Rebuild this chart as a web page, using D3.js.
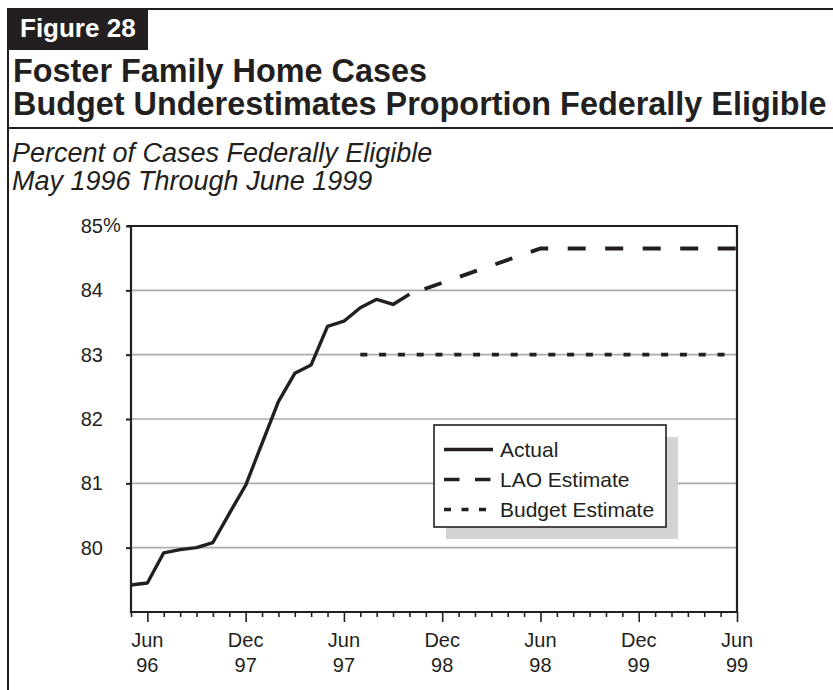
<!DOCTYPE html>
<html>
<head>
<meta charset="utf-8">
<script src="https://cdn.jsdelivr.net/npm/d3@7"></script>
<style>
  html, body { margin: 0; padding: 0; background: #fff; }
  svg { display: block; font-family: "Liberation Sans", Arial, Helvetica, sans-serif; }
</style>
</head>
<body>
<svg id="chart" width="833" height="690"></svg>
<script>
// ---- data -------------------------------------------------------------
// Month index 0 = May 1996, index 37 = June 1999
const monthCount = 38;
const actualPercent = [79.42, 79.45, 79.92, 79.97, 80.00, 80.08, 80.53, 80.97, 81.62,
                       82.27, 82.71, 82.84, 83.44, 83.52, 83.73, 83.86, 83.78, 83.94];
const laoMonthIndex = [17, 25, 37];
const laoPercent = [83.94, 84.65, 84.65];
const budgetMonthIndex = [14, 37];
const budgetPercent = [83.0, 83.0];
const yTicks = [80, 81, 82, 83, 84, 85];
const xTickLabels = [["Jun", "96"], ["Dec", "97"], ["Jun", "97"], ["Dec", "98"],
                     ["Jun", "98"], ["Dec", "99"], ["Jun", "99"]];
const legendLabels = ["Actual", "LAO Estimate", "Budget Estimate"];

// ---- setup ------------------------------------------------------------
const ink = "#231f20";
const svg = d3.select("#chart");

const x = d3.scaleLinear().domain([0, monthCount - 1]).range([131, 737]);
const y = d3.scaleLinear().domain([79, 85]).range([612, 226]);

// ---- page frame and headings -------------------------------------------
svg.append("line").attr("x1", 8).attr("x2", 833).attr("y1", 9).attr("y2", 9)
  .attr("stroke", ink).attr("stroke-width", 2);
svg.append("line").attr("x1", 8).attr("x2", 8).attr("y1", 8).attr("y2", 690)
  .attr("stroke", ink).attr("stroke-width", 2);
svg.append("line").attr("x1", 8).attr("x2", 833).attr("y1", 128).attr("y2", 128)
  .attr("stroke", ink).attr("stroke-width", 2);

svg.append("rect").attr("x", 8).attr("y", 8).attr("width", 140).attr("height", 42)
  .attr("fill", ink);
svg.append("text").attr("x", 20).attr("y", 37)
  .attr("fill", "#fff").attr("font-size", 26).attr("font-weight", "bold")
  .text("Figure 28");

const title = svg.append("text").attr("fill", ink).attr("font-size", 32.4).attr("font-weight", "bold");
title.append("tspan").attr("x", 13).attr("y", 82).text("Foster Family Home Cases");
title.append("tspan").attr("x", 13).attr("y", 115).text("Budget Underestimates Proportion Federally Eligible");

const sub = svg.append("text").attr("fill", ink).attr("font-size", 27).attr("font-style", "italic");
sub.append("tspan").attr("x", 12).attr("y", 162).text("Percent of Cases Federally Eligible");
sub.append("tspan").attr("x", 12).attr("y", 190).text("May 1996 Through June 1999");

// ---- grid -------------------------------------------------------------
svg.append("g").selectAll("line")
  .data(yTicks.filter(d => d < 85))
  .join("line")
  .attr("x1", x(0)).attr("x2", x(monthCount - 1))
  .attr("y1", d => y(d)).attr("y2", d => y(d))
  .attr("stroke", "#ababab").attr("stroke-width", 1.6);

// ---- axes -------------------------------------------------------------
const yAxis = svg.append("g")
  .attr("transform", `translate(${x(0)},0)`)
  .call(d3.axisLeft(y).tickValues(yTicks).tickSize(5).tickPadding(23).tickFormat(d => d));
yAxis.select(".domain").remove();
yAxis.selectAll(".tick line").attr("stroke", ink).attr("stroke-width", 2);
yAxis.selectAll(".tick text").attr("fill", ink).attr("font-size", 20)
  .attr("font-family", "Liberation Sans, Arial, Helvetica, sans-serif");
// percent sign trails the top label
svg.append("text").attr("x", x(0) - 28).attr("y", y(85)).attr("dy", "0.32em")
  .attr("fill", ink).attr("font-size", 20).text("%");

const xAxis = svg.append("g")
  .attr("transform", `translate(0,${y(79)})`)
  .call(d3.axisBottom(x).tickValues(d3.range(monthCount)).tickSize(5).tickFormat(""));
xAxis.select(".domain").remove();
xAxis.selectAll(".tick line")
  .attr("stroke", ink).attr("stroke-width", 1.6)
  .attr("y2", d => ((d - 1) % 6 === 0 ? 10 : 5));

// two-line month / year labels on every sixth month starting June 1996
const xLab = svg.append("g").attr("fill", ink).attr("font-size", 20).attr("text-anchor", "middle");
xTickLabels.forEach((lab, k) => {
  const t = xLab.append("text");
  t.append("tspan").attr("x", x(1 + 6 * k)).attr("y", 647).text(lab[0]);
  t.append("tspan").attr("x", x(1 + 6 * k)).attr("y", 672).text(lab[1]);
});

// plot box
svg.append("path")
  .attr("d", `M${x(0) - 4},${y(85)} H${x(monthCount - 1)} V${y(79)} H${x(0)} V${y(85)}`)
  .attr("fill", "none").attr("stroke", ink).attr("stroke-width", 2.2);

// ---- series -----------------------------------------------------------
const line = d3.line().x(d => x(d[0])).y(d => y(d[1]));

svg.append("path")
  .datum(budgetMonthIndex.map((m, i) => [m, budgetPercent[i]]))
  .attr("d", line).attr("fill", "none").attr("stroke", ink)
  .attr("stroke-width", 3.6).attr("stroke-dasharray", "7,11.8");

svg.append("path")
  .datum(laoMonthIndex.map((m, i) => [m, laoPercent[i]]))
  .attr("d", line).attr("fill", "none").attr("stroke", ink)
  .attr("stroke-width", 3.8).attr("stroke-dasharray", "18,19.5").attr("stroke-dashoffset", 21.5);

svg.append("path")
  .datum(actualPercent.map((v, i) => [i, v]))
  .attr("d", line).attr("fill", "none").attr("stroke", ink)
  .attr("stroke-width", 3.4).attr("stroke-linejoin", "round");

// ---- legend -----------------------------------------------------------
const lg = svg.append("g");
lg.append("rect").attr("x", 446).attr("y", 437).attr("width", 232).attr("height", 102)
  .attr("fill", "#d3d3d3");
lg.append("rect").attr("x", 434).attr("y", 425).attr("width", 232).attr("height", 102)
  .attr("fill", "#fff").attr("stroke", ink).attr("stroke-width", 1.6);

const legendDash = [null, "15.5,15.5", "7,10.5"];
legendLabels.forEach((lab, i) => {
  const ry = 449.5 + i * 30;
  lg.append("line").attr("x1", 444).attr("x2", 493).attr("y1", ry).attr("y2", ry)
    .attr("stroke", ink).attr("stroke-width", 3.4)
    .attr("stroke-dasharray", legendDash[i]);
  lg.append("text").attr("x", 500).attr("y", ry + 7.5)
    .attr("fill", ink).attr("font-size", 21).text(lab);
});
</script>
</body>
</html>
